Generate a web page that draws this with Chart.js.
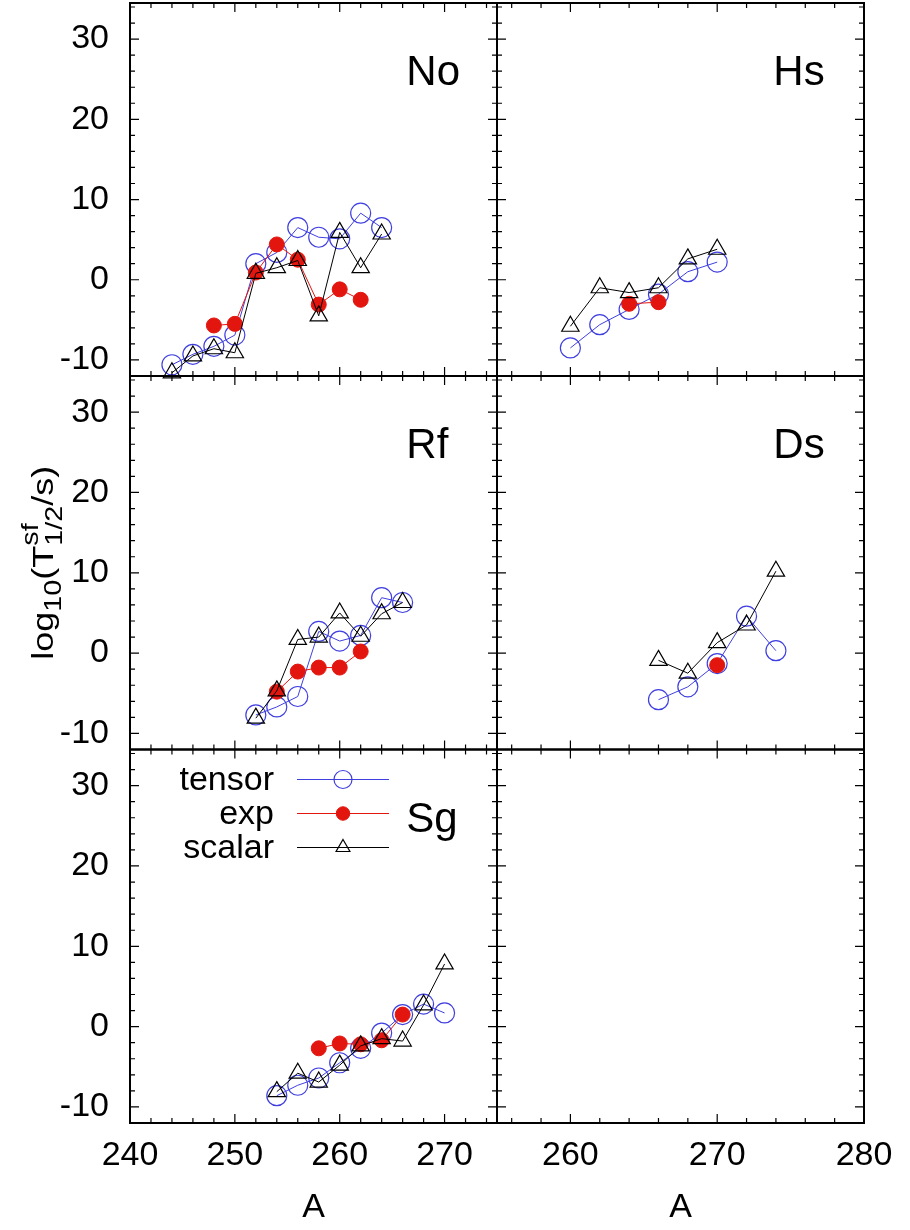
<!DOCTYPE html>
<html>
<head>
<meta charset="utf-8">
<script src="https://cdn.jsdelivr.net/npm/chart.js@4.4.1/dist/chart.umd.min.js"></script>
<style>
  html, body { margin: 0; padding: 0; background: #fff; }
  #wrap { position: relative; width: 910px; height: 1230px; }
  #wrap canvas { position: absolute; left: 0; top: 0; }
</style>
</head>
<body>
<div id="wrap">
  <canvas id="pNo" width="910" height="1230"></canvas>
  <canvas id="pHs" width="910" height="1230"></canvas>
  <canvas id="pRf" width="910" height="1230"></canvas>
  <canvas id="pDs" width="910" height="1230"></canvas>
  <canvas id="pSg" width="910" height="1230"></canvas>
  <canvas id="pEmpty" width="910" height="1230"></canvas>
</div>
<script>
// --- DATA (mass number A vs log10 of the SF half-life) ---
const noA = [244, 246, 248, 250, 252, 254, 256, 258, 260, 262, 264];
const noTensor = [-10.6, -9.3, -8.3, -6.9, 2.0, 3.4, 6.5, 5.3, 5.1, 8.3, 6.5];
const noScalar = [-11.6, -9.5, -8.6, -9.1, 0.8, 1.5, 2.4, -4.5, 5.9, 1.5, 5.7];
const noExpA = [248, 250, 252, 254, 256, 258, 260, 262];
const noExp = [-5.7, -5.5, 0.9, 4.4, 2.5, -3.1, -1.2, -2.5];

const hsA = [260, 262, 264, 266, 268, 270];
const hsTensor = [-8.5, -5.6, -3.7, -1.8, 1.0, 2.2];
const hsScalar = [-5.8, -1.0, -1.6, -1.0, 2.6, 3.8];
const hsExpA = [264, 266];
const hsExp = [-3.0, -2.8];

const rfA = [252, 254, 256, 258, 260, 262, 264, 266];
const rfTensor = [-7.7, -6.7, -5.4, 2.7, 1.5, 2.2, 6.9, 6.3];
const rfScalar = [-8.1, -4.7, 1.7, 2.0, 5.0, 2.1, 4.9, 6.3];
const rfExpA = [254, 256, 258, 260, 262];
const rfExp = [-4.8, -2.3, -1.8, -1.8, 0.2];

const dsA = [266, 268, 270, 272, 274];
const dsTensor = [-5.8, -4.2, -1.3, 4.6, 0.3];
const dsScalar = [-0.9, -2.5, 1.3, 3.5, 10.2];
const dsExpA = [270];
const dsExp = [-1.5];

const sgA = [254, 256, 258, 260, 262, 264, 266, 268, 270];
const sgTensor = [-8.6, -7.3, -6.4, -4.5, -2.7, -0.8, 1.5, 2.8, 1.7];
const sgScalar = [-8.1, -5.8, -6.9, -4.8, -2.4, -1.5, -1.8, 2.7, 7.8];
const sgExpA = [258, 260, 262, 264, 266];
const sgExp = [-2.7, -2.1, -2.2, -1.7, 1.5];

// axis ranges
const leftXRange = [240, 275];
const rightXRange = [255, 280];
const yRange = [-12, 34.5];

// --- LOOK ---
const BLUE = '#3f3fe0';
const RED = '#e3160f';
const FONT = "'Liberation Sans', Arial, Helvetica, sans-serif";
Chart.defaults.font.family = FONT;
Chart.defaults.color = '#000';

// panel frame positions on the page (pixels)
const COLS = [[130, 497], [497, 864]];
const ROWS = [[3, 376], [376, 749.5], [749.5, 1123]];

const STYLES = {
  tensor: { borderColor: BLUE, pointBorderColor: BLUE, pointBackgroundColor: 'rgba(0,0,0,0)', pointStyle: 'circle', pointRadius: 10, pointBorderWidth: 1.2, order: 3 },
  exp: { borderColor: RED, pointBorderColor: RED, pointBackgroundColor: RED, pointStyle: 'circle', pointRadius: 7.5, pointBorderWidth: 1, order: 2 },
  scalar: { borderColor: '#000', pointBorderColor: '#000', pointBackgroundColor: 'rgba(0,0,0,0)', pointStyle: 'triangle', pointRadius: 10, pointBorderWidth: 1.2, order: 1 }
};

function pairs(xs, ys) {
  return xs.map((a, i) => ({ x: a, y: ys[i] }));
}

function series(kind, xs, ys) {
  return Object.assign({
    label: kind,
    data: pairs(xs, ys),
    showLine: true,
    borderWidth: 1,
    pointHoverRadius: 10,
    clip: false
  }, STYLES[kind]);
}

// inward ticks on all four sides + the frame, gnuplot style
const frameTicks = {
  id: 'frameTicks',
  afterDraw(chart) {
    const { ctx, chartArea: a, scales: { x, y } } = chart;
    ctx.save();
    ctx.strokeStyle = '#000';
    ctx.lineWidth = 1.2;
    ctx.beginPath();
    for (let v = Math.ceil(x.min / 2) * 2; v <= x.max; v += 2) {
      const px = x.getPixelForValue(v);
      const len = v % 10 === 0 ? 9 : 5;
      ctx.moveTo(px, a.bottom); ctx.lineTo(px, a.bottom - len);
      ctx.moveTo(px, a.top); ctx.lineTo(px, a.top + len);
    }
    for (let v = Math.ceil(y.min / 2) * 2; v <= y.max; v += 2) {
      const py = y.getPixelForValue(v);
      const len = v % 10 === 0 ? 9 : 5;
      ctx.moveTo(a.left, py); ctx.lineTo(a.left + len, py);
      ctx.moveTo(a.right, py); ctx.lineTo(a.right - len, py);
    }
    ctx.stroke();
    ctx.lineWidth = 2;
    ctx.strokeRect(a.left, a.top, a.width, a.height);
    ctx.restore();
  }
};

// element symbol in the upper right of each panel
const panelLabel = {
  id: 'panelLabel',
  afterDraw(chart, args, opts) {
    if (!opts.text) return;
    const { ctx, chartArea: a } = chart;
    ctx.save();
    ctx.font = '42px ' + FONT;
    ctx.fillStyle = '#000';
    ctx.textAlign = 'left';
    ctx.textBaseline = 'alphabetic';
    ctx.fillText(opts.text, a.left + a.width * 0.753, a.top + opts.dy);
    ctx.restore();
  }
};

// key drawn inside the Sg panel: text, then a line with the marker on it
const keyBox = {
  id: 'keyBox',
  afterDraw(chart) {
    const { ctx, chartArea: a } = chart;
    ctx.save();
    ['tensor', 'exp', 'scalar'].forEach((kind, i) => {
      const st = STYLES[kind];
      const yy = a.top + 30 + i * 34;
      ctx.font = '34px ' + FONT;
      ctx.fillStyle = '#000';
      ctx.textAlign = 'right';
      ctx.textBaseline = 'middle';
      ctx.fillText(kind, a.left + 144, yy + 1);
      ctx.strokeStyle = st.borderColor;
      ctx.lineWidth = 1;
      ctx.beginPath();
      ctx.moveTo(a.left + 167, yy);
      ctx.lineTo(a.left + 259, yy);
      ctx.stroke();
      ctx.fillStyle = st.pointBackgroundColor;
      ctx.strokeStyle = st.pointBorderColor;
      ctx.lineWidth = st.pointBorderWidth;
      Chart.helpers.drawPoint(ctx, {
        pointStyle: st.pointStyle,
        radius: st.pointStyle === 'triangle' ? 8 : st.pointRadius * 0.9,
        borderWidth: st.pointBorderWidth,
        rotation: 0
      }, a.left + 213, yy);
    });
    ctx.restore();
  }
};

// rotated y title: log10(T^sf_1/2/s)
const yTitle = {
  id: 'yTitle',
  afterDraw(chart) {
    const { ctx, chartArea: a } = chart;
    const big = '30px ' + FONT;
    const small = '24px ' + FONT;
    const parts = [
      { t: 'log', f: big, dy: 0 },
      { t: '10', f: small, dy: 8 },
      { t: '(T', f: big, dy: 0 },
      { t: 'sf', f: small, dy: -15, keep: true },
      { t: '1/2', f: small, dy: 9 },
      { t: '/s)', f: big, dy: 0 }
    ];
    ctx.save();
    let total = 0;
    parts.forEach(p => { ctx.font = p.f; p.w = ctx.measureText(p.t).width; if (!p.keep) total += p.w; });
    ctx.translate(53, (a.top + a.bottom) / 2);
    ctx.rotate(-Math.PI / 2);
    ctx.scale(1.2, 1);
    ctx.fillStyle = '#000';
    ctx.textBaseline = 'alphabetic';
    ctx.textAlign = 'left';
    let cx = -total / 2;
    parts.forEach(p => {
      ctx.font = p.f;
      ctx.fillText(p.t, cx, p.dy);
      if (!p.keep) cx += p.w;
    });
    ctx.restore();
  }
};

function makePanel(id, col, row, datasets, label, extra) {
  const xr = col === 0 ? leftXRange : rightXRange;
  const showX = row === 2;
  const showY = col === 0;
  return new Chart(document.getElementById(id), {
    type: 'scatter',
    data: { datasets: datasets },
    options: {
      responsive: false,
      animation: false,
      events: [],
      layout: {
        autoPadding: false,
        padding: {
          left: showY ? 0 : COLS[1][0],
          right: 910 - COLS[col][1],
          top: ROWS[row][0],
          bottom: showX ? 0 : 1230 - ROWS[row][1]
        }
      },
      scales: {
        x: {
          type: 'linear', min: xr[0], max: xr[1],
          display: showX,
          afterFit: s => { if (showX) { s.height = 1230 - ROWS[2][1]; } s.paddingLeft = 0; s.paddingRight = 0; },
          ticks: { stepSize: 10, includeBounds: false, autoSkip: false, maxRotation: 0, padding: 12, font: { size: 34 } },
          grid: { display: false, drawTicks: false },
          border: { display: false },
          title: { display: true, text: 'A', font: { size: 34 }, padding: { top: 0, bottom: 2 } }
        },
        y: {
          type: 'linear', min: yRange[0], max: yRange[1],
          display: showY,
          afterFit: s => { if (showY) { s.width = COLS[0][0]; } s.paddingTop = 0; s.paddingBottom = 0; },
          ticks: { stepSize: 10, includeBounds: false, autoSkip: false, padding: 21, font: { size: 34 } },
          grid: { display: false, drawTicks: false },
          border: { display: false }
        }
      },
      plugins: {
        legend: { display: false },
        tooltip: { enabled: false },
        panelLabel: { text: label, dy: 82 }
      }
    },
    plugins: [frameTicks, panelLabel].concat(extra || [])
  });
}

makePanel('pNo', 0, 0, [
  series('tensor', noA, noTensor),
  series('exp', noExpA, noExp),
  series('scalar', noA, noScalar)
], 'No');

makePanel('pHs', 1, 0, [
  series('tensor', hsA, hsTensor),
  series('exp', hsExpA, hsExp),
  series('scalar', hsA, hsScalar)
], 'Hs');

makePanel('pRf', 0, 1, [
  series('tensor', rfA, rfTensor),
  series('exp', rfExpA, rfExp),
  series('scalar', rfA, rfScalar)
], 'Rf', [yTitle]);

makePanel('pDs', 1, 1, [
  series('tensor', dsA, dsTensor),
  series('exp', dsExpA, dsExp),
  series('scalar', dsA, dsScalar)
], 'Ds');

makePanel('pSg', 0, 2, [
  series('tensor', sgA, sgTensor),
  series('exp', sgExpA, sgExp),
  series('scalar', sgA, sgScalar)
], 'Sg', [keyBox]);

makePanel('pEmpty', 1, 2, [], '');
</script>
</body>
</html>
